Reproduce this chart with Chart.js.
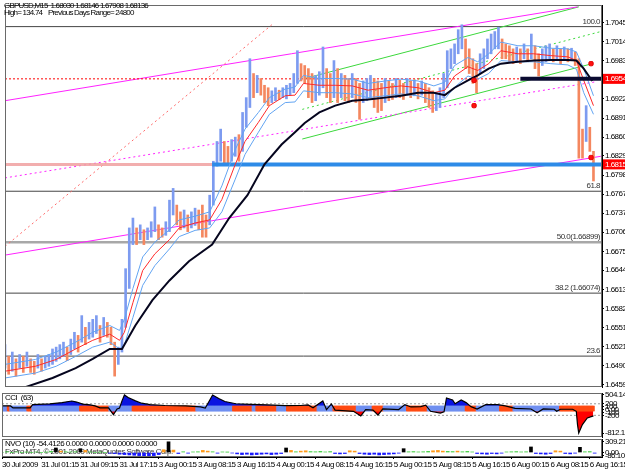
<!DOCTYPE html>
<html>
<head>
<meta charset="utf-8">
<title>GBPUSD,M15</title>
<script src="https://cdn.jsdelivr.net/npm/chart.js@4.4.0/dist/chart.umd.min.js"></script>
<style>
  html, body { margin: 0; padding: 0; background: #fff; }
  #wrap { position: relative; width: 625px; height: 469px; overflow: hidden; }
  canvas { position: absolute; left: 0; }
</style>
</head>
<body>
<div id="wrap">
  <canvas id="mainChart" width="625" height="392" style="top:0"></canvas>
  <canvas id="cciChart" width="625" height="46" style="top:392px"></canvas>
  <canvas id="nvoChart" width="625" height="31" style="top:438px"></canvas>
</div>
<script>
// time axis (bar index of the M15 bars)
var timeTicks = [0, 32, 64, 96, 128, 160, 192, 224, 256, 288, 320, 352, 384, 416, 448, 480];
var timeLabels = ["30 Jul 2009", "31 Jul 01:15", "31 Jul 09:15", "31 Jul 17:15", "3 Aug 00:15", "3 Aug 08:15",
  "3 Aug 16:15", "4 Aug 00:15", "4 Aug 08:15", "4 Aug 16:15", "5 Aug 00:15", "5 Aug 08:15",
  "5 Aug 16:15", "6 Aug 00:15", "6 Aug 08:15", "6 Aug 16:15"];

var priceTicks = [1.70450, 1.70145, 1.69835, 1.69525, 1.69220, 1.68910, 1.68600, 1.68295, 1.67985, 1.67675,
  1.67370, 1.67060, 1.66750, 1.66445, 1.66135, 1.65825, 1.65515, 1.65210, 1.64900, 1.64590];

// price bars, one every 3 bars
var barHigh = [1.6524,1.6505,1.6512,1.6501,1.6508,1.6505,1.6512,1.6501,1.6497,1.6508,
  1.6501,1.6505,1.6508,1.6517,1.6520,1.6524,1.6528,1.6520,1.6533,1.6544,
  1.6539,1.6571,1.6552,1.6560,1.6565,1.6571,1.6555,1.6568,1.6560,1.6552,
  1.6528,1.6520,1.6565,1.6647,1.6713,1.6729,1.6713,1.6718,1.6710,1.6713,
  1.6723,1.6747,1.6718,1.6713,1.6723,1.6758,1.6777,1.6750,1.6739,1.6742,
  1.6734,1.6739,1.6745,1.6742,1.6750,1.6734,1.6766,1.6821,1.6853,1.6873,
  1.6853,1.6845,1.6856,1.6860,1.6864,1.6900,1.6924,1.6987,1.6963,1.6960,
  1.6955,1.6944,1.6940,1.6935,1.6940,1.6936,1.6940,1.6944,1.6947,1.6963,
  1.7000,1.6979,1.6976,1.6971,1.6963,1.6960,1.6966,1.7006,1.6971,1.6963,
  1.6984,1.6971,1.6963,1.6960,1.6955,1.6963,1.6955,1.6947,1.6951,1.6955,
  1.6960,1.6955,1.6951,1.6947,1.6955,1.6951,1.6947,1.6955,1.6952,1.6947,
  1.6955,1.6951,1.6952,1.6947,1.6951,1.6947,1.6940,1.6935,1.6932,1.6940,
  1.6963,1.7000,1.7003,1.7011,1.7034,1.7042,1.7019,1.7003,1.6987,1.6979,
  1.6995,1.7003,1.7019,1.7027,1.7031,1.7038,1.7019,1.7011,1.7008,1.7003,
  1.7006,1.7003,1.7011,1.7003,1.7027,1.7008,1.6995,1.7003,1.7008,1.7011,
  1.7003,1.7008,1.7003,1.7006,1.7003,1.7004,1.6998,1.6987,1.6873,1.6911,
  1.6876,1.6837];
var barLow = [1.6486,1.6476,1.6481,1.6473,1.6486,1.6479,1.6489,1.6479,1.6476,1.6486,
  1.6481,1.6486,1.6489,1.6492,1.6497,1.6501,1.6505,1.6498,1.6508,1.6517,
  1.6512,1.6528,1.6524,1.6533,1.6536,1.6542,1.6528,1.6539,1.6536,1.6524,
  1.6473,1.6492,1.6512,1.6552,1.6615,1.6686,1.6686,1.6694,1.6686,1.6694,
  1.6698,1.6707,1.6694,1.6698,1.6701,1.6707,1.6734,1.6718,1.6710,1.6713,
  1.6707,1.6713,1.6717,1.6710,1.6698,1.6698,1.6718,1.6750,1.6813,1.6821,
  1.6816,1.6816,1.6821,1.6829,1.6821,1.6837,1.6876,1.6908,1.6924,1.6932,
  1.6928,1.6916,1.6911,1.6916,1.6919,1.6921,1.6924,1.6922,1.6928,1.6932,
  1.6947,1.6951,1.6947,1.6924,1.6916,1.6919,1.6928,1.6940,1.6924,1.6916,
  1.6924,1.6916,1.6924,1.6919,1.6916,1.6924,1.6916,1.6889,1.6916,1.6919,
  1.6924,1.6908,1.6900,1.6903,1.6916,1.6919,1.6921,1.6924,1.6924,1.6921,
  1.6928,1.6924,1.6927,1.6922,1.6928,1.6916,1.6908,1.6900,1.6903,1.6908,
  1.6924,1.6940,1.6971,1.6979,1.6995,1.7003,1.6971,1.6963,1.6947,1.6932,
  1.6963,1.6971,1.6987,1.6995,1.7003,1.7003,1.6987,1.6987,1.6982,1.6979,
  1.6982,1.6979,1.6987,1.6982,1.6987,1.6971,1.6959,1.6976,1.6982,1.6987,
  1.6982,1.6987,1.6979,1.6985,1.6982,1.6984,1.6976,1.6826,1.6826,1.6853,
  1.6837,1.6789];

// moving averages
var maX = [0,25,42,58,72,86,94,98,105,113,123,135,143,156,168,178,189,197,208,217,
  230,238,245,258,271,285,298,312,325,339,352,361,369,380,388,397,407,421,434,448,462,469,475,483];
var emaRed = [1.6481,1.6489,1.6500,1.6517,1.6531,1.6541,1.6531,1.6544,1.6592,1.6644,
  1.6671,1.6694,1.6713,1.6721,1.6726,1.6759,1.6816,1.6853,1.6884,1.6911,
  1.6927,1.6928,1.6947,1.6944,1.6944,1.6943,1.6936,1.6940,1.6943,1.6940,
  1.6932,1.6936,1.6959,1.6974,1.6968,1.6979,1.7000,1.6995,1.6995,1.6992,
  1.6990,1.6984,1.6952,1.6911];
var envUp = [1.6492,1.6500,1.6512,1.6528,1.6544,1.6555,1.6547,1.6565,1.6615,1.6666,
  1.6690,1.6710,1.6726,1.6732,1.6739,1.6781,1.6840,1.6873,1.6900,1.6924,
  1.6938,1.6941,1.6960,1.6955,1.6955,1.6954,1.6947,1.6951,1.6954,1.6951,
  1.6943,1.6949,1.6976,1.6989,1.6982,1.6995,1.7014,1.7008,1.7008,1.7004,
  1.7003,1.6998,1.6971,1.6927];
var envDn = [1.6470,1.6478,1.6489,1.6505,1.6520,1.6528,1.6517,1.6524,1.6568,1.6620,
  1.6652,1.6679,1.6699,1.6709,1.6713,1.6739,1.6792,1.6832,1.6868,1.6897,
  1.6916,1.6917,1.6935,1.6932,1.6932,1.6930,1.6924,1.6927,1.6930,1.6927,
  1.6919,1.6922,1.6941,1.6959,1.6954,1.6963,1.6984,1.6982,1.6982,1.6979,
  1.6977,1.6970,1.6932,1.6897];
var smaX = [0,39,58,72,86,96,107,121,135,151,170,184,199,213,227,238,246,258,271,285,
  298,312,325,339,352,361,369,380,388,397,407,421,434,448,462,469,475,482];
var smaBlack = [1.6444,1.6470,1.6486,1.6501,1.6517,1.6517,1.6555,1.6596,1.6628,1.6659,
  1.6686,1.6729,1.6766,1.6816,1.6848,1.6868,1.6883,1.6900,1.6911,1.6919,
  1.6921,1.6924,1.6927,1.6932,1.6932,1.6928,1.6940,1.6952,1.6960,1.6971,
  1.6979,1.6982,1.6984,1.6985,1.6985,1.6984,1.6971,1.6951];

// fibo levels and drawn objects
var fibLevels = [1.70390, 1.67724, 1.66899, 1.66074, 1.65054];
var fibNames = ["100.0", "61.8", "50.0(1.66899)", "38.2 (1.66074)", "23.6"];
var resistLevel = 1.69544;
var supportLevel = 1.68159;
var redDiag = [[0, 1.6683], [219, 1.7042]];
var magTop = [[0, 1.6919], [470, 1.7071]];
var magMid = [[0, 1.6794], [486, 1.6950]];
var magLow = [[0, 1.6669], [489, 1.6829]];
var grnTop = [[246, 1.6955], [471, 1.7071]];
var grnMid = [[244, 1.6905], [489, 1.7031]];
var grnLow = [[244, 1.6857], [482, 1.6979]];
var markX = [385, 385, 481, 481];
var markY = [1.6952, 1.6911, 1.6979, 1.6827];

// CCI (63)
var cciX = [0,7,9,23,25,39,49,57,61,66,72,76,80,87,91,94,96,98,100,103,
  109,114,121,133,150,162,166,168,172,177,182,191,203,217,231,244,250,254,262,265,
  269,272,287,293,297,303,307,311,324,329,334,342,346,350,358,361,363,368,370,375,
  379,383,388,395,405,411,419,432,437,442,451,453,456,466,469,470,471,474,478,483];
var cciVal = [125,125,55,55,170,195,240,295,260,190,160,125,60,55,-175,20,55,300,504,420,
  300,220,170,140,125,95,55,200,504,380,280,200,180,160,135,140,160,60,300,0,
  195,-20,-60,-220,0,-20,-190,20,0,170,90,100,150,-60,-120,-80,400,330,200,330,
  240,100,20,170,170,125,40,20,-110,20,10,-60,10,10,-60,-520,-812,-520,-290,-220];
var cciTrend = [[0,5,"u"],[5,7,"d"],[7,21,"u"],[21,25,"d"],[25,64,"u"],[64,88,"d"],[88,107,"u"],
  [107,159,"d"],[159,189,"u"],[189,205,"d"],[205,208,"u"],[208,225,"d"],[225,233,"u"],[233,258,"d"],
  [258,271,"u"],[271,290,"d"],[290,303,"u"],[303,312,"d"],[312,331,"u"],[331,348,"d"],[348,379,"u"],
  [379,388,"d"],[388,407,"u"],[407,418,"d"],[418,456,"u"],[456,484,"d"]];
var cciTicks = [504.1419, 200, 100, 0, -100, -200, -812.183];
var cciTickLabels = ["504.1419", "200", "100", "0.00", "-100", "-200", "-812.183"];

// NVO (10), one bar every 4 bars
var nvoVal = [0,20,0,15,0,10,0,15,0,10, 30,130,40,20,15,20,110,60,15,0,
  10,0,-20,-30,-50,-60,-70,-80,-90,-100, -100,-90,-60,80,309,70,-30,20,-20,15,
  20,60,40,20,-20,15,10,-15,-40,-60, -50,-70,-60,-50,-40,-60,-50,-30,130,60,
  20,40,50,25,20,30,15,25,-30,-40, -30,50,40,-30,-50,-60,-50,-70,-60,-50,
  -40,-20,110,20,25,15,20,30,50,60, 40,30,25,40,20,30,15,-30,-40,-50,
  -30,-40,-20,15,20,25,15,20,160,-30, -40,-50,-30,50,40,-30,-40,-20,150,20,
  25,-20];
var nvoTicks = [309.2121, 0, -86.102];
var nvoTickLabels = ["309.2121", "0.00", "-86.102"];

var FONT = '"Liberation Sans", Arial, sans-serif';
var upColor = "#7d9bf0";
var downColor = "#f4875f";

function pts(xs, ys) {
  return xs.map(function (x, i) { return {x: x, y: ys[i]}; });
}
function seg(pairs) {
  return pairs.map(function (p) { return {x: p[0], y: p[1]}; });
}
function hline(x0, x1, v) {
  return [{x: x0, y: v}, {x: x1, y: v}];
}
function lineSet(data, color, width, dash, order) {
  return {type: "line", data: data, borderColor: color, borderWidth: width, borderDash: dash || [],
    pointRadius: 0, fill: false, tension: 0, order: order};
}

// narrow text like the terminal's small font
var tightText = {
  id: "tightText",
  beforeUpdate: function (chart) { chart.ctx.letterSpacing = "-0.5px"; },
  beforeDraw: function (chart) { chart.ctx.letterSpacing = "-0.5px"; }
};

var framePlugin = {
  id: "frame",
  afterDraw: function (chart) {
    var a = chart.chartArea, c = chart.ctx;
    c.save();
    c.strokeStyle = "#6a6a6a";
    c.lineWidth = 1;
    c.strokeRect(a.left + 0.5, a.top + 0.5, a.right - a.left - 1, a.bottom - a.top - 1);
    c.restore();
  }
};

function yAxis(min, max, ticks, labelFn) {
  return {
    position: "right", min: min, max: max,
    afterBuildTicks: function (s) { s.ticks = ticks.map(function (v) { return {value: v}; }); },
    afterFit: function (s) { s.width = 23; s.paddingTop = 0; s.paddingBottom = 0; },
    ticks: {autoSkip: false, padding: 1, color: "#000", font: {family: FONT, size: 8}, callback: labelFn},
    grid: {drawOnChartArea: false, tickLength: 2, color: "#000"},
    border: {color: "#000"}
  };
}

// ---------- main price window ----------
var priceBars = barHigh.map(function (h, i) { return {x: i * 3, y: [barLow[i], h]}; });

var mainSets = [
  {type: "bar", data: priceBars, barThickness: 2, order: 7,
    backgroundColor: function (ctx) {
      var i = ctx.dataIndex;
      if (i == 0) return upColor;
      return (barHigh[i] + barLow[i]) >= (barHigh[i - 1] + barLow[i - 1]) ? upColor : downColor;
    }},
  lineSet(pts(maX, envUp), "#62a4f2", 1, null, 5),
  lineSet(pts(maX, envDn), "#62a4f2", 1, null, 5),
  lineSet(pts(maX, emaRed), "#ff2a2a", 1, null, 4),
  lineSet(pts(smaX, smaBlack), "#05051e", 2, null, 3),
  lineSet(hline(170, 490, supportLevel), "#2d8be8", 4, null, 6),
  lineSet(hline(0, 170, supportLevel), "rgba(240,160,160,0.85)", 3, null, 6),
  lineSet(hline(0, 490, resistLevel), "#ff0000", 1, [2, 2], 8),
  lineSet(hline(423, 490, resistLevel), "#0a0a30", 4, null, 1),
  lineSet(seg(redDiag), "#ff6a6a", 1, [2, 3], 8),
  lineSet(seg(magTop), "#ff22ff", 1, null, 8),
  lineSet(seg(magMid), "#ff22ff", 1, [2, 3], 8),
  lineSet(seg(magLow), "#ff22ff", 1, null, 8),
  lineSet(seg(grnTop), "#3cd83c", 1, null, 8),
  lineSet(seg(grnMid), "#3cd83c", 1, [2, 3], 8),
  lineSet(seg(grnLow), "#3cd83c", 1, null, 8),
  {type: "line", data: pts(markX, markY), showLine: false, pointStyle: "rectRounded", pointRadius: 2.5,
    pointBackgroundColor: "#ff1010", pointBorderColor: "#e00000", order: 0}
];
fibLevels.forEach(function (v, i) {
  mainSets.push(lineSet(hline(0, 490, v), i == 2 ? "#a8a8a8" : "#454545", i == 2 ? 2.5 : 1, null, 9));
});

var mainText = {
  id: "mainText",
  afterDraw: function (chart) {
    var c = chart.ctx, y = chart.scales.y, a = chart.chartArea;
    c.save();
    c.font = "8px " + FONT;
    c.letterSpacing = "-0.8px";
    c.fillStyle = "#000";
    c.textBaseline = "middle";
    c.textAlign = "left";
    c.fillText("GBPUSD,M15  1.68030 1.68146 1.67908 1.68136", 4, 6);
    c.fillText("High= 134.74    Previous Days Range= 24800", 4, 13);
    c.letterSpacing = "-0.5px";
    c.textAlign = "right";
    c.textBaseline = "bottom";
    c.fillStyle = "#333";
    fibLevels.forEach(function (v, i) {
      c.fillText(fibNames[i], a.right - 2, y.getPixelForValue(v) - 1);
    });
    [resistLevel, supportLevel].forEach(function (v) {
      var py = y.getPixelForValue(v);
      c.fillStyle = "#ff0000";
      c.fillRect(a.right + 1, py - 5, 24, 10);
      c.fillStyle = "#fff";
      c.textAlign = "left";
      c.textBaseline = "middle";
      c.fillText(v.toFixed(5), a.right + 3, py);
    });
    c.restore();
  }
};

var xHidden = {type: "linear", min: 0, max: 490, offset: false, display: false};

new Chart(document.getElementById("mainChart"), {
  type: "line",
  data: {datasets: mainSets},
  options: {
    responsive: false, animation: false, events: [],
    layout: {padding: {left: 2, top: 0, bottom: 1, right: 0}},
    plugins: {legend: {display: false}, tooltip: {enabled: false}},
    scales: {
      x: xHidden,
      y: yAxis(1.64554, 1.7074, priceTicks, function (v) { return v.toFixed(5); })
    }
  },
  plugins: [tightText, framePlugin, mainText]
});

// ---------- CCI window ----------
var stripBars = [];
cciTrend.forEach(function (t) {
  for (var k = t[0]; k < t[1]; k++) stripBars.push({x: k, y: [-50, 120], t: t[2]});
});

new Chart(document.getElementById("cciChart"), {
  type: "line",
  data: {datasets: [
    lineSet(pts(cciX, cciVal), "#000", 1.2, null, 0),
    {type: "bar", data: stripBars, barThickness: 2, order: 1,
      backgroundColor: function (ctx) { return ctx.raw && ctx.raw.t == "u" ? "#6f8ff0" : "#ff4a12"; }},
    {type: "line", data: pts(cciX, cciVal), borderWidth: 0, pointRadius: 0, tension: 0, order: 2,
      fill: {target: "origin", above: "#0a14e0", below: "#ff0000"}},
    lineSet(hline(0, 490, 200), "#9a9a9a", 1, [2, 2], 3),
    lineSet(hline(0, 490, -200), "#9a9a9a", 1, [2, 2], 3)
  ]},
  options: {
    responsive: false, animation: false, events: [],
    layout: {padding: {left: 2, top: 1, bottom: 1, right: 0}},
    plugins: {legend: {display: false}, tooltip: {enabled: false}},
    scales: {
      x: xHidden,
      y: yAxis(-950, 573, cciTicks, function (v, i) { return cciTickLabels[i]; })
    }
  },
  plugins: [tightText, framePlugin, {
    id: "cciText",
    afterDatasetsDraw: function (chart) {
      var c = chart.ctx;
      c.save();
      c.font = "8px " + FONT;
      c.fillStyle = "#000";
      c.textBaseline = "middle";
      c.fillText("CCI  (63)", 5, 6);
      c.restore();
    }
  }]
});

// ---------- NVO window ----------
var nvoBars = nvoVal.map(function (v, i) { return {x: i * 4, y: v}; });

new Chart(document.getElementById("nvoChart"), {
  type: "line",
  data: {datasets: [
    {type: "bar", data: nvoBars, barThickness: 3,
      backgroundColor: function (ctx) {
        var v = ctx.raw ? ctx.raw.y : 0;
        if (v < 0) return "#1a1aff";
        if (v >= 100) return "#000";
        if (v >= 40) return "#ff9a1a";
        return "#33cc33";
      }}
  ]},
  options: {
    responsive: false, animation: false, events: [],
    layout: {padding: {left: 2, top: 1, bottom: 0, right: 0}},
    plugins: {legend: {display: false}, tooltip: {enabled: false}},
    scales: {
      x: {
        type: "linear", min: 0, max: 490, offset: false, position: "bottom",
        afterBuildTicks: function (s) { s.ticks = timeTicks.map(function (v) { return {value: v}; }); },
        afterFit: function (s) { s.height = 12; s.paddingLeft = 0; s.paddingRight = 0; },
        ticks: {autoSkip: false, maxRotation: 0, minRotation: 0, align: "start", padding: 1, color: "#000",
          font: {family: FONT, size: 8}, callback: function (v, i) { return timeLabels[i]; }},
        grid: {drawOnChartArea: false, offset: false, tickLength: 2, color: "#000"},
        border: {color: "#000"}
      },
      y: yAxis(-130, 390, nvoTicks, function (v, i) { return nvoTickLabels[i]; })
    }
  },
  plugins: [tightText, framePlugin, {
    id: "nvoText",
    beforeDatasetsDraw: function (chart) {
      var c = chart.ctx;
      c.save();
      c.font = "8px " + FONT;
      c.textBaseline = "middle";
      c.fillStyle = "#000";
      c.fillText("NVO (10) -54.4126 0.0000 0.0000 0.0000 0.0000", 5, 6);
      c.fillStyle = "#303030";
      c.fillText("FxPro MT4, \u00a9 2001-2009 MetaQuotes Software Corp.", 5, 14);
      c.restore();
    }
  }]
});
</script>
</body>
</html>
